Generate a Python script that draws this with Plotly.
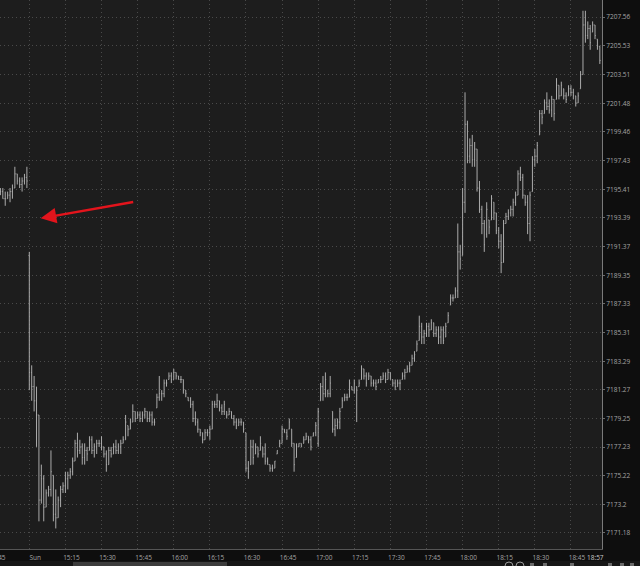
import plotly.graph_objects as go

# minute index: -12..-1 = Friday close (14:48-14:59), 0.. = Sunday from 15:00
minute_index = list(range(-12, 238))

opens = [
    7195.25, 7195.25, 7194.75, 7194.75, 7195.0, 7195.25, 7195.5, 7196.5, 7196.0, 7195.75, 7196.0, 7196.25,
    7190.75, 7182.5, 7181.5, 7180.5, 7179.5, 7173.5, 7175.0, 7173.0, 7174.0, 7174.25,
    7175.25, 7172.5, 7172.25, 7173.5, 7174.25, 7174.5, 7175.0, 7175.25, 7175.5, 7176.25,
    7177.5, 7177.0, 7177.25, 7176.5, 7177.0, 7177.0, 7177.75, 7177.0, 7177.25, 7177.5,
    7177.5, 7177.25, 7176.75, 7176.0, 7177.0, 7176.75, 7177.25, 7177.0, 7177.25, 7177.5,
    7177.75, 7178.75, 7178.5, 7179.0, 7179.75, 7179.25, 7179.5, 7179.25, 7179.5, 7179.75,
    7179.25, 7179.5, 7179.0, 7180.0, 7180.75, 7181.0, 7181.0, 7181.75, 7182.0, 7182.25,
    7182.0, 7182.5, 7182.25, 7182.0, 7182.0, 7181.25, 7180.75, 7180.5, 7180.25, 7179.25,
    7179.0, 7178.5, 7178.25, 7177.75, 7178.25, 7178.25, 7178.5, 7180.25, 7180.25, 7180.5,
    7180.0, 7179.75, 7179.75, 7179.5, 7179.75, 7179.25, 7179.0, 7178.75, 7179.0, 7179.0,
    7178.25, 7175.75, 7176.0, 7177.25, 7176.75, 7177.25, 7177.0, 7177.25, 7176.75, 7176.25,
    7176.0, 7175.75, 7175.75, 7176.75, 7177.25, 7177.5, 7178.5, 7178.25, 7178.5, 7178.5,
    7177.5, 7176.5, 7177.25, 7177.5, 7177.5, 7177.75, 7178.0, 7177.75, 7178.0, 7178.25,
    7177.5, 7180.5, 7181.5, 7181.0, 7181.25, 7181.0, 7179.75, 7178.5, 7178.75, 7179.0,
    7180.0, 7180.5, 7180.75, 7180.75, 7181.5, 7181.25, 7181.5, 7181.5, 7182.0, 7182.75,
    7182.25, 7182.0, 7182.25, 7181.75, 7181.75, 7181.75, 7182.0, 7182.0, 7182.25, 7182.0,
    7182.5, 7182.0, 7181.75, 7181.5, 7181.75, 7182.0, 7182.25, 7182.5, 7182.75, 7183.0,
    7183.5, 7184.0, 7184.75, 7185.75, 7185.0, 7185.25, 7185.75, 7185.5, 7186.0, 7185.25,
    7185.5, 7185.0, 7185.5, 7185.0, 7186.0, 7187.25, 7187.75, 7187.75, 7188.25, 7191.0,
    7190.75, 7194.5, 7200.0, 7197.75, 7198.5, 7197.5, 7198.25, 7195.5, 7194.0, 7193.0,
    7192.25, 7193.25, 7193.25, 7194.5, 7193.75, 7192.5, 7191.75, 7190.25, 7193.0, 7193.5,
    7193.75, 7194.0, 7194.5, 7195.0, 7196.5, 7196.25, 7195.0, 7194.5, 7193.0, 7195.25,
    7197.5, 7197.75, 7199.25, 7200.75, 7200.75, 7201.5, 7201.25, 7201.0, 7201.75, 7201.75,
    7202.75, 7202.0, 7202.5, 7202.0, 7202.0, 7202.5, 7202.25, 7202.0, 7201.5, 7202.5,
    7203.5, 7207.0, 7206.25, 7206.75, 7206.5, 7207.0, 7206.0, 7205.5,
]

highs = [
    7195.5, 7195.5, 7195.25, 7195.25, 7195.5, 7195.75, 7197.0, 7196.5, 7196.25, 7196.25, 7196.5, 7197.0,
    7191.0, 7183.0, 7182.25, 7181.5, 7179.5, 7176.0, 7175.25, 7174.25, 7174.5, 7177.0,
    7175.25, 7174.25, 7173.75, 7174.5, 7174.75, 7175.5, 7175.5, 7175.75, 7176.5, 7177.75,
    7178.25, 7177.75, 7177.5, 7177.5, 7177.25, 7178.0, 7178.0, 7177.5, 7177.75, 7177.75,
    7178.0, 7177.25, 7177.0, 7177.25, 7177.25, 7177.5, 7177.75, 7177.5, 7177.75, 7178.0,
    7179.5, 7178.75, 7179.25, 7180.25, 7179.75, 7179.75, 7179.75, 7179.75, 7180.0, 7179.75,
    7179.75, 7179.75, 7179.25, 7181.0, 7182.25, 7181.25, 7182.0, 7182.0, 7182.5, 7182.5,
    7182.75, 7182.5, 7182.25, 7182.25, 7182.0, 7181.25, 7180.75, 7180.75, 7180.5, 7179.75,
    7179.25, 7178.5, 7178.25, 7178.5, 7178.5, 7178.75, 7180.5, 7180.5, 7181.0, 7180.5,
    7180.25, 7180.5, 7179.75, 7180.0, 7179.75, 7179.5, 7179.25, 7179.25, 7179.25, 7179.0,
    7178.25, 7176.25, 7177.75, 7177.75, 7177.5, 7177.25, 7178.0, 7177.25, 7177.5, 7176.5,
    7176.0, 7176.0, 7176.25, 7177.0, 7177.75, 7178.75, 7178.5, 7178.5, 7179.25, 7178.5,
    7177.5, 7177.5, 7177.5, 7177.5, 7178.0, 7178.25, 7178.0, 7178.0, 7178.25, 7179.0,
    7180.0, 7181.75, 7182.25, 7182.5, 7181.25, 7182.25, 7179.75, 7179.25, 7179.25, 7180.0,
    7180.75, 7181.0, 7181.0, 7182.0, 7181.5, 7182.0, 7181.5, 7182.0, 7183.0, 7182.75,
    7182.5, 7182.5, 7182.25, 7182.0, 7182.0, 7182.0, 7182.25, 7182.5, 7182.5, 7182.75,
    7182.5, 7182.0, 7182.0, 7182.0, 7182.0, 7182.5, 7182.75, 7183.0, 7183.25, 7183.75,
    7184.0, 7184.75, 7186.5, 7186.0, 7185.5, 7186.0, 7186.0, 7186.25, 7186.0, 7185.75,
    7185.75, 7185.75, 7185.75, 7186.0, 7186.75, 7188.0, 7188.0, 7188.5, 7193.0, 7191.5,
    7195.5, 7202.25, 7200.25, 7199.0, 7199.25, 7198.75, 7198.25, 7196.0, 7194.25, 7193.25,
    7194.5, 7193.25, 7195.0, 7194.5, 7193.75, 7192.75, 7192.25, 7193.25, 7193.75, 7194.0,
    7194.25, 7194.75, 7195.25, 7196.75, 7197.0, 7196.5, 7195.0, 7195.0, 7195.25, 7197.75,
    7198.25, 7198.75, 7201.0, 7201.0, 7201.75, 7202.25, 7201.75, 7202.0, 7201.75, 7203.25,
    7202.75, 7203.0, 7202.5, 7202.25, 7202.75, 7202.75, 7202.5, 7202.0, 7202.25, 7203.75,
    7208.0, 7208.0, 7207.25, 7207.0, 7207.25, 7207.0, 7206.0, 7205.5,
]

lows = [
    7195.0, 7194.75, 7194.25, 7194.75, 7194.5, 7194.75, 7195.5, 7195.75, 7195.5, 7195.25, 7195.75, 7195.5,
    7181.25, 7180.5, 7179.75, 7177.25, 7172.0, 7173.25, 7172.0, 7173.0, 7173.75, 7173.75,
    7172.0, 7171.5, 7172.25, 7173.0, 7174.0, 7174.0, 7174.25, 7175.0, 7175.25, 7176.25,
    7176.5, 7176.75, 7176.0, 7176.0, 7176.25, 7177.0, 7176.75, 7176.5, 7176.75, 7177.25,
    7177.0, 7176.5, 7175.5, 7176.0, 7176.5, 7176.75, 7176.75, 7176.75, 7176.75, 7177.5,
    7177.75, 7178.0, 7178.5, 7179.0, 7179.0, 7179.25, 7179.0, 7179.0, 7179.25, 7179.0,
    7179.0, 7178.75, 7178.75, 7180.0, 7180.5, 7180.5, 7180.75, 7181.5, 7182.0, 7181.75,
    7182.0, 7182.0, 7182.0, 7181.75, 7181.0, 7180.75, 7180.5, 7180.0, 7179.0, 7178.75,
    7178.25, 7178.0, 7177.5, 7177.75, 7178.0, 7177.75, 7178.5, 7180.0, 7180.0, 7179.75,
    7179.5, 7179.5, 7179.25, 7179.5, 7179.25, 7178.75, 7178.5, 7178.75, 7178.75, 7178.25,
    7175.5, 7175.0, 7176.0, 7176.0, 7176.75, 7176.5, 7177.0, 7176.5, 7176.0, 7176.0,
    7175.5, 7175.5, 7175.75, 7176.75, 7177.25, 7177.5, 7178.25, 7177.75, 7178.5, 7177.25,
    7175.5, 7176.5, 7177.25, 7177.25, 7177.5, 7177.75, 7177.5, 7177.0, 7178.0, 7178.0,
    7177.25, 7180.5, 7180.5, 7180.75, 7180.75, 7180.75, 7178.25, 7178.0, 7178.5, 7178.5,
    7180.0, 7180.5, 7180.5, 7180.75, 7181.25, 7181.0, 7179.0, 7181.5, 7182.0, 7182.0,
    7181.5, 7182.0, 7181.5, 7181.5, 7181.25, 7181.75, 7181.75, 7182.0, 7181.75, 7182.0,
    7182.0, 7181.5, 7181.25, 7181.5, 7181.25, 7182.0, 7182.0, 7182.5, 7182.5, 7183.0,
    7183.25, 7184.0, 7184.75, 7184.5, 7184.5, 7185.0, 7185.0, 7185.5, 7185.0, 7185.0,
    7184.5, 7184.5, 7184.5, 7185.0, 7186.0, 7187.25, 7187.5, 7187.75, 7187.75, 7189.75,
    7190.75, 7193.75, 7197.25, 7197.25, 7197.0, 7197.0, 7195.25, 7193.75, 7192.25, 7191.0,
    7192.0, 7192.25, 7193.25, 7193.25, 7192.25, 7191.25, 7189.5, 7190.25, 7193.0, 7193.25,
    7193.5, 7193.5, 7194.25, 7195.0, 7196.0, 7194.75, 7194.25, 7192.25, 7191.75, 7195.25,
    7197.0, 7197.25, 7199.25, 7200.0, 7200.75, 7201.0, 7200.75, 7200.5, 7200.25, 7201.75,
    7201.75, 7202.0, 7201.75, 7201.5, 7202.0, 7202.0, 7201.75, 7201.25, 7201.5, 7202.5,
    7203.5, 7205.75, 7206.0, 7205.25, 7206.5, 7206.0, 7205.25, 7204.25,
]

closes = [
    7195.25, 7194.75, 7194.75, 7195.0, 7195.25, 7195.5, 7196.5, 7196.0, 7195.75, 7196.0, 7196.25, 7196.0,
    7182.5, 7181.5, 7180.5, 7179.5, 7173.5, 7175.0, 7173.0, 7174.0, 7174.25, 7175.5,
    7172.5, 7172.25, 7173.5, 7174.25, 7174.5, 7175.0, 7175.25, 7175.5, 7176.25, 7177.5,
    7177.0, 7177.25, 7176.5, 7177.0, 7176.75, 7177.75, 7177.0, 7177.25, 7177.5, 7177.5,
    7177.25, 7176.75, 7176.0, 7177.0, 7176.75, 7177.25, 7177.0, 7177.25, 7177.5, 7177.75,
    7179.0, 7178.5, 7179.0, 7179.75, 7179.25, 7179.5, 7179.25, 7179.5, 7179.75, 7179.25,
    7179.5, 7179.0, 7179.0, 7180.75, 7181.0, 7181.0, 7181.75, 7181.75, 7182.25, 7182.0,
    7182.5, 7182.25, 7182.0, 7182.0, 7181.25, 7181.0, 7180.5, 7180.25, 7179.25, 7179.0,
    7178.5, 7178.25, 7177.75, 7178.25, 7178.25, 7178.5, 7180.25, 7180.25, 7180.5, 7180.0,
    7179.75, 7180.25, 7179.5, 7179.75, 7179.25, 7179.0, 7178.75, 7179.0, 7179.0, 7178.5,
    7175.75, 7175.5, 7177.25, 7176.5, 7177.25, 7176.75, 7177.5, 7176.75, 7176.25, 7176.0,
    7175.75, 7175.75, 7176.25, 7177.0, 7177.5, 7178.5, 7178.25, 7178.0, 7179.0, 7177.5,
    7176.0, 7177.25, 7177.5, 7177.25, 7177.75, 7178.0, 7177.75, 7177.25, 7178.25, 7178.75,
    7179.75, 7181.5, 7181.0, 7182.0, 7181.0, 7181.75, 7178.5, 7178.75, 7179.0, 7179.75,
    7180.5, 7180.75, 7180.75, 7181.75, 7181.25, 7181.75, 7181.25, 7181.75, 7182.75, 7182.25,
    7181.75, 7182.25, 7181.75, 7181.75, 7181.5, 7182.0, 7182.0, 7182.25, 7182.0, 7182.5,
    7182.0, 7181.75, 7181.5, 7181.75, 7181.75, 7182.25, 7182.5, 7182.75, 7183.0, 7183.5,
    7183.75, 7184.5, 7185.75, 7185.0, 7185.25, 7185.75, 7185.5, 7186.0, 7185.25, 7185.5,
    7185.0, 7185.5, 7184.75, 7185.75, 7186.5, 7187.75, 7187.75, 7188.25, 7191.0, 7190.5,
    7194.5, 7200.0, 7197.75, 7198.5, 7197.5, 7198.25, 7195.5, 7194.0, 7193.0, 7191.5,
    7194.0, 7192.75, 7194.75, 7193.75, 7192.5, 7191.75, 7190.25, 7193.0, 7193.5, 7193.75,
    7194.0, 7194.5, 7195.0, 7196.5, 7196.25, 7195.0, 7194.5, 7193.0, 7195.0, 7197.5,
    7197.75, 7198.5, 7200.75, 7200.5, 7201.5, 7201.25, 7201.0, 7201.75, 7200.75, 7202.75,
    7202.0, 7202.75, 7202.0, 7201.75, 7202.5, 7202.25, 7202.0, 7201.5, 7202.0, 7203.5,
    7207.0, 7206.25, 7206.75, 7205.75, 7207.0, 7206.25, 7205.5, 7204.5,
]

price_ticks = [7171.18, 7173.2, 7175.22, 7177.23, 7179.25, 7181.27, 7183.29, 7185.31,
               7187.33, 7189.35, 7191.37, 7193.39, 7195.41, 7197.43, 7199.46, 7201.48,
               7203.51, 7205.53, 7207.56]
price_tick_text = ["7171.18", "7173.2", "7175.22", "7177.23", "7179.25", "7181.27", "7183.29",
                   "7185.31", "7187.33", "7189.35", "7191.37", "7193.39", "7195.41", "7197.43",
                   "7199.46", "7201.48", "7203.51", "7205.53", "7207.56"]
time_ticks = [0, 15, 30, 45, 60, 75, 90, 105, 120, 135, 150, 165, 180, 195, 210, 225]
time_tick_text = ["Sun", "15:15", "15:30", "15:45", "16:00", "16:15", "16:30", "16:45",
                  "17:00", "17:15", "17:30", "17:45", "18:00", "18:15", "18:30", "18:45"]

BAR = "#ababab"
LABEL = "#a4a4a4"
FONT = "Open Sans"
W, H = 640, 566
ML, MR, MT, MB = 0, 38, 0, 17
PW, PH = W - ML - MR, H - MT - MB

fig = go.Figure(go.Ohlc(
    x=minute_index, open=opens, high=highs, low=lows, close=closes,
    increasing=dict(line=dict(color=BAR, width=1)),
    decreasing=dict(line=dict(color=BAR, width=1)),
    tickwidth=0.3, hoverinfo="skip", showlegend=False,
))

fig.update_layout(
    width=W, height=H,
    margin=dict(l=ML, r=MR, t=MT, b=MB, pad=0),
    paper_bgcolor="#0e0e0e", plot_bgcolor="#1d1d1d",
    font=dict(family=FONT, size=7, color=LABEL),
    hovermode=False, showlegend=False,
    xaxis=dict(
        range=[-12.17, 237.9], tickmode="array", tickvals=time_ticks, ticktext=time_tick_text,
        showgrid=True, gridcolor="#4a4a4a", griddash="1px,3px", gridwidth=1,
        showline=True, linecolor="#555555", linewidth=1, zeroline=False,
        ticks="", ticklabelshift=6, ticklabelstandoff=2,
        tickfont=dict(family=FONT, size=6.5, color=LABEL),
        rangeslider=dict(visible=False), fixedrange=True,
    ),
    yaxis=dict(
        side="right", range=[7170.05, 7208.76], tickmode="array",
        tickvals=price_ticks, ticktext=price_tick_text,
        showgrid=True, gridcolor="#4a4a4a", griddash="1px,3px", gridwidth=1,
        showline=True, linecolor="#7a7a7a", linewidth=1, zeroline=False,
        ticks="outside", ticklen=2, tickcolor="#6a6a6a",
        tickfont=dict(family=FONT, size=6.5, color=LABEL), fixedrange=True,
    ),
)

# partially visible previous-session label (cut by the left edge) and current-time label
fig.add_annotation(xref="paper", yref="paper", x=8 / PW, xanchor="right", y=0, yanchor="top",
                   yshift=-2, text="14:45", showarrow=False,
                   font=dict(family=FONT, size=6.5, color=LABEL))
fig.add_annotation(xref="paper", yref="paper", x=605.5 / PW, y=0, yanchor="top", yshift=-2,
                   text="18:57", showarrow=False, font=dict(family=FONT, size=6.5, color="#c8c8c8"))

# red arrow pointing at the session gap
fig.add_annotation(xref="paper", yref="paper", x=40.7 / PW, y=(PH - 218.3) / PH,
                   ax=94, ay=-16.6, text="", showarrow=True, arrowhead=2, arrowsize=1.3,
                   arrowwidth=2.4, arrowcolor="#e3141c", standoff=0)

# bottom scrollbar and toolbar glyphs
def px_rect(x0, y0, x1, y1, **kw):
    fig.add_shape(type="rect", xref="paper", yref="paper",
                  x0=x0 / PW, x1=x1 / PW, y0=(PH - y0) / PH, y1=(PH - y1) / PH, **kw)

px_rect(0, 561, 640, 566, fillcolor="#161616", line=dict(width=0), layer="above")
px_rect(73, 562, 227, 566, fillcolor="#3c3c3c", line=dict(width=0), layer="above")
for cx in (509, 520):
    fig.add_shape(type="circle", xref="paper", yref="paper",
                  x0=(cx - 4) / PW, x1=(cx + 4) / PW, y0=(PH - 562) / PH, y1=(PH - 570) / PH,
                  line=dict(color="#9a9a9a", width=1), layer="above")
for gx in (532, 545, 572, 610, 622, 632):
    px_rect(gx - 2, 563, gx + 2, 566, fillcolor="#6a6a6a", line=dict(width=0), layer="above")

fig.write_html("out.html", config=dict(displayModeBar=False, staticPlot=True),
               post_script="document.body.style.margin='0';document.body.style.padding='0';")
